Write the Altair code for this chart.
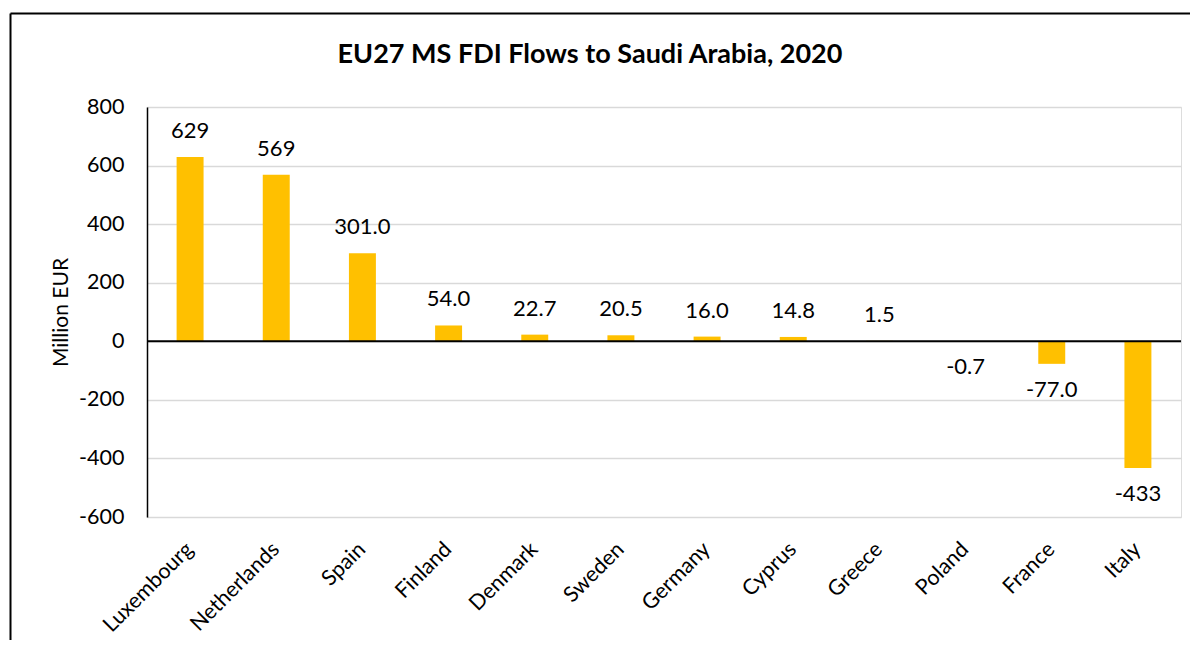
import altair as alt
import pandas as pd

countries = ["Luxembourg", "Netherlands", "Spain", "Finland", "Denmark", "Sweden",
             "Germany", "Cyprus", "Greece", "Poland", "France", "Italy"]
values = [629, 569, 301.0, 54.0, 22.7, 20.5, 16.0, 14.8, 1.5, -0.7, -77.0, -433]
labels = ["629", "569", "301.0", "54.0", "22.7", "20.5", "16.0", "14.8", "1.5",
          "-0.7", "-77.0", "-433"]
y_ticks = [-600, -400, -200, 0, 200, 400, 600, 800]

df = pd.DataFrame({"country": countries, "value": values, "label": labels})

FONT = "Lato"
W, H = 1034, 410

x_enc = alt.X("country:N", sort=countries, title=None,
              scale=alt.Scale(paddingInner=0.687, paddingOuter=0.3435),
              axis=alt.Axis(labelAngle=-45, labelAlign="right", labelBaseline="middle",
                            labelFontSize=21.5, labelFont=FONT, labelColor="black",
                            domain=False, ticks=False, labelPadding=29, grid=False))
y_scale = alt.Scale(domain=[-600, 800], nice=False, zero=False)

bars = alt.Chart(df).mark_bar(color="#FFC000").encode(
    x=x_enc,
    y=alt.Y("value:Q", scale=y_scale, title="Million EUR",
            axis=alt.Axis(values=y_ticks, labelExpr="toString(datum.value)",
                          labelFontSize=21.5, labelFont=FONT,
                          labelColor="black", domain=True, domainColor="black",
                          domainWidth=1.5, ticks=False, labelPadding=23,
                          grid=True, gridColor="#d9d9d9", gridWidth=1.5,
                          titleFont=FONT, titleFontSize=21, titleFontWeight="normal",
                          titleColor="black", titleAngle=-90, titleX=-80, titleY=205,
                          titleAlign="center", titleBaseline="alphabetic")),
    y2=alt.datum(0),
)

zero = alt.Chart(alt.Data(values=[{"v": 0}])).mark_rule(color="black", strokeWidth=2).encode(
    y=alt.Y("v:Q", scale=y_scale), x=alt.value(0), x2=alt.value(W)
)

pos_text = alt.Chart(df).transform_filter("datum.value >= 0").mark_text(
    font=FONT, fontSize=22, baseline="alphabetic", dy=-19, color="black"
).encode(x=alt.X("country:N", sort=countries), y=alt.Y("value:Q", scale=y_scale), text="label:N")

neg_text = alt.Chart(df).transform_filter("datum.value < 0").mark_text(
    font=FONT, fontSize=22, baseline="top", dy=16, color="black"
).encode(x=alt.X("country:N", sort=countries), y=alt.Y("value:Q", scale=y_scale), text="label:N")

frame_top = alt.Chart(alt.Data(values=[{}])).mark_rule(color="black", strokeWidth=2).encode(
    x=alt.value(-136.5), x2=alt.value(1100), y=alt.value(-93.5)
)
frame_left = alt.Chart(alt.Data(values=[{}])).mark_rule(color="black", strokeWidth=2).encode(
    x=alt.value(-136.5), y=alt.value(-93.5), y2=alt.value(700)
)

chart = alt.layer(bars, zero, pos_text, neg_text, frame_top, frame_left).properties(
    width=W, height=H,
    title=alt.TitleParams("EU27 MS FDI Flows to Saudi Arabia, 2020", font=FONT,
                          fontSize=27, fontWeight="bold", color="black",
                          anchor="middle", dx=-74, baseline="alphabetic", offset=-77),
    autosize=alt.AutoSizeParams(type="none"),
    padding={"left": 139, "top": 99, "right": 9, "bottom": 123},
).configure_view(stroke=None).configure(background="white")

chart.save("out.html", embed_options={"renderer": "svg", "actions": False})
